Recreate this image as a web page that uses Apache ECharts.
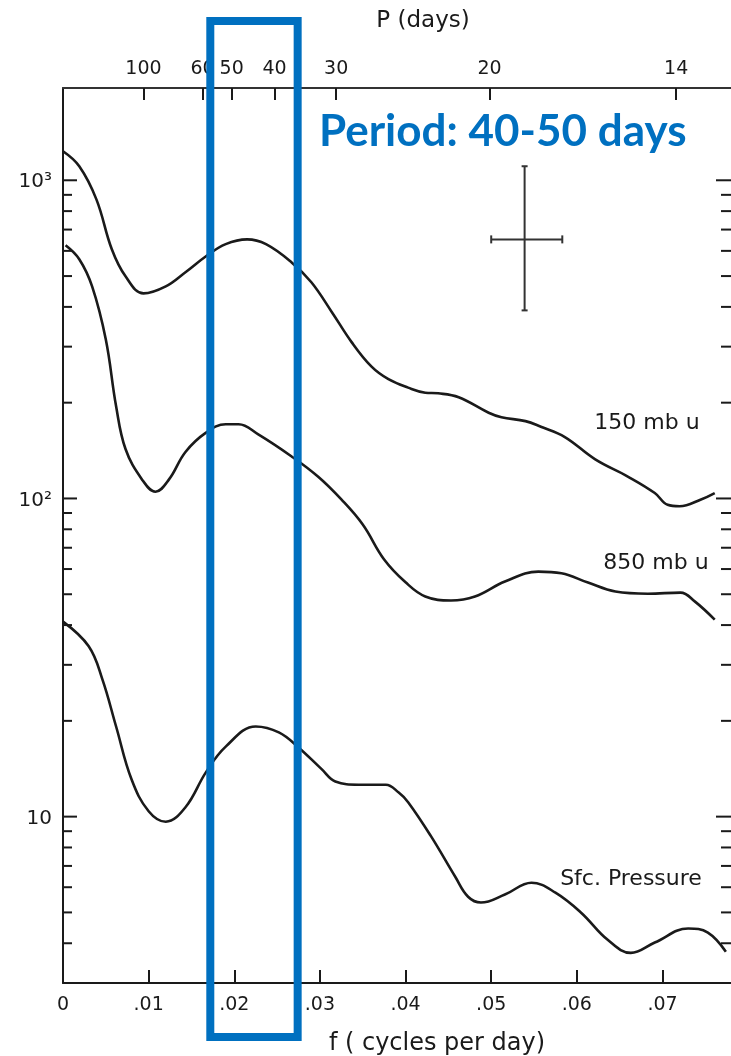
<!DOCTYPE html>
<html><head><meta charset="utf-8">
<script src="https://cdn.jsdelivr.net/npm/echarts@6/dist/echarts.min.js"></script>
<style>html,body{margin:0;padding:0;background:#fff}#c{width:731px;height:1056px}</style>
</head><body><div id="c"></div>
<script>
// ---- data ----
const f150 = [0, 0.0019, 0.0039, 0.0057, 0.0073, 0.0094, 0.0120, 0.0143, 0.0167, 0.0190, 0.0215, 0.0237, 0.0267, 0.0290, 0.0314, 0.0337, 0.0360, 0.0380, 0.0403, 0.0423, 0.0438, 0.0462, 0.0497, 0.0512, 0.0540, 0.0558, 0.0586, 0.0621, 0.0660, 0.0691, 0.0706, 0.0720, 0.0745, 0.0761];
const v150 = [1234, 1107, 871, 607, 499, 441, 464, 514, 577, 630, 652, 630, 552, 478, 385, 310, 260, 237, 223, 215, 214, 208, 186, 180, 175, 168, 156, 133, 117, 104, 95.5, 94.5, 99.3, 104];
const f850 = [0.0003, 0.0019, 0.0034, 0.0050, 0.0062, 0.0073, 0.0092, 0.0108, 0.0124, 0.0143, 0.0167, 0.0190, 0.0205, 0.0228, 0.0267, 0.0298, 0.0325, 0.0350, 0.0375, 0.0400, 0.0423, 0.0453, 0.0481, 0.0516, 0.0555, 0.0582, 0.0613, 0.0645, 0.0683, 0.0721, 0.0738, 0.0761];
const v850 = [625, 565, 464, 316, 195, 143, 115, 105, 115, 140, 161, 171, 171, 159, 135.5, 117, 99.3, 82.8, 64.3, 54.5, 49.2, 47.8, 49.2, 54.8, 58.9, 58.2, 54.4, 51.0, 50.2, 50.6, 47.4, 41.6];
const fSfc = [0, 0.0030, 0.0046, 0.0062, 0.0080, 0.0100, 0.0120, 0.0143, 0.0167, 0.0190, 0.0225, 0.0252, 0.0275, 0.0302, 0.0318, 0.0345, 0.0377, 0.0392, 0.0403, 0.0430, 0.0458, 0.0473, 0.0488, 0.0516, 0.0547, 0.0575, 0.0605, 0.0636, 0.0663, 0.0691, 0.0730, 0.0753, 0.0774];
const vSfc = [41, 34.3, 27, 19.2, 13.1, 10.4, 9.64, 10.7, 13.8, 16.6, 19.2, 18.4, 16.5, 14.1, 12.9, 12.6, 12.6, 11.9, 11.1, 8.65, 6.47, 5.6, 5.37, 5.69, 6.2, 5.77, 4.99, 4.1, 3.73, 4.02, 4.45, 4.32, 3.76];

const seriesNames = ['150 mb u', '850 mb u', 'Sfc. Pressure'];

const fTickValues = [0.01, 0.02, 0.03, 0.04, 0.05, 0.06, 0.07];
const fLabelValues = [0, 0.01, 0.02, 0.03, 0.04, 0.05, 0.06, 0.07];
const periodLabels = ['100', '60', '50', '40', '30', '20', '14'];
const periodTickF = [0.0094, 0.0163, 0.0197, 0.0247, 0.0319, 0.0498, 0.0716];

const yMajorTicks = [10, 100, 1000];
const yMajorLabels = ['10', '10\u00B2', '10\u00B3'];
const yMinorTicks = [4, 5, 6, 7, 8, 9, 20, 30, 40, 50, 60, 70, 80, 90, 200, 300, 400, 500, 600, 700, 800, 900];

// error cross: [f centre, value centre, f low, f high, value low, value high]
const errorCross = [0.0539, 652, 0.0500, 0.0583, 390, 1107];
// highlighted band (annotation box)
const boxF = [0.0172, 0.0274];
const boxTitle = 'Period: 40-50 days';

const X_MAX = 0.078, Y_MIN = 3, Y_MAX = 1950;
const INK = '#1a1a1a';
const FONT = 'DejaVu Sans';
const BLUE = '#0070C0';

const zip = (a, b) => a.map((x, i) => [x, b[i]]);

const chart = echarts.init(document.getElementById('c'));
const grid = { left: 63, top: 88, width: 669, height: 895 };

function tickSeries(values, len) {
  return {
    type: 'custom', clip: false, silent: true, z: 5,
    data: values.map(v => [0, v]),
    renderItem(params, api) {
      const v = api.value(1);
      const pl = api.coord([0, v]);
      const pr = api.coord([X_MAX, v]);
      const st = { stroke: INK, lineWidth: 2 };
      return { type: 'group', children: [
        { type: 'line', shape: { x1: pl[0], y1: pl[1], x2: pl[0] + len, y2: pl[1] }, style: st },
        { type: 'line', shape: { x1: pr[0], y1: pr[1], x2: pr[0] - len - 1, y2: pr[1] }, style: st }
      ]};
    }
  };
}

const lineStyle = { color: INK, width: 2.6 };
const option = {
  backgroundColor: '#fff',
  animation: false,
  grid: grid,
  xAxis: [
    {
      type: 'value', position: 'bottom', min: 0, max: X_MAX,
      axisLine: { show: true, lineStyle: { color: INK, width: 2 } },
      axisTick: { show: true, inside: true, length: 13, customValues: fTickValues, lineStyle: { color: INK, width: 2 } },
      axisLabel: { customValues: fLabelValues, margin: 13, color: INK, fontFamily: FONT, fontSize: 19,
        formatter: v => v === 0 ? '0' : '.' + String(Math.round(v * 100)).padStart(2, '0') },
      splitLine: { show: false }
    },
    {
      type: 'value', position: 'top', min: 0, max: X_MAX,
      axisLine: { show: true, lineStyle: { color: '#333', width: 2 } },
      axisTick: { show: true, inside: true, length: 12, customValues: periodTickF, lineStyle: { color: INK, width: 2 } },
      axisLabel: { customValues: periodTickF, margin: 9, color: INK, fontFamily: FONT, fontSize: 19,
        formatter: v => { let k = 0, d = 1; periodTickF.forEach((p, i) => { if (Math.abs(p - v) < d) { d = Math.abs(p - v); k = i; } }); return periodLabels[k]; } },
      splitLine: { show: false }
    }
  ],
  yAxis: {
    type: 'log', logBase: 10, min: Y_MIN, max: Y_MAX,
    axisLine: { show: true, lineStyle: { color: INK, width: 2 } },
    axisTick: { show: false }, axisLabel: { show: false }, splitLine: { show: false }
  },
  series: [
    { name: seriesNames[0], type: 'line', data: zip(f150, v150), smooth: 0.4, showSymbol: false, symbol: 'none', lineStyle, z: 4 },
    { name: seriesNames[1], type: 'line', data: zip(f850, v850), smooth: 0.4, showSymbol: false, symbol: 'none', lineStyle, z: 4 },
    { name: seriesNames[2], type: 'line', data: zip(fSfc, vSfc), smooth: 0.4, showSymbol: false, symbol: 'none', lineStyle, z: 4 },
    tickSeries(yMajorTicks, 14),
    tickSeries(yMinorTicks, 9),
    {
      type: 'custom', clip: false, silent: true, z: 5,
      data: yMajorTicks.map((v, i) => [0, v, i]),
      renderItem(params, api) {
        const p = api.coord([0, api.value(1)]);
        return { type: 'text', x: p[0] - 11, y: p[1] + 2,
          style: { text: yMajorLabels[api.value(2)], fill: INK, font: '20px "' + FONT + '"', align: 'right', verticalAlign: 'middle' } };
      }
    },
    {
      type: 'custom', clip: false, silent: true, z: 5,
      data: [errorCross],
      renderItem(params, api) {
        const c = api.coord([api.value(0), api.value(1)]);
        const l = api.coord([api.value(2), api.value(1)]);
        const r = api.coord([api.value(3), api.value(1)]);
        const b = api.coord([api.value(0), api.value(4)]);
        const t = api.coord([api.value(0), api.value(5)]);
        const st = { stroke: '#333', lineWidth: 2 };
        const L = (x1, y1, x2, y2) => ({ type: 'line', shape: { x1, y1, x2, y2 }, style: st });
        return { type: 'group', children: [
          L(l[0], c[1], r[0], c[1]), L(c[0], t[1], c[0], b[1]),
          L(l[0], c[1] - 4, l[0], c[1] + 4), L(r[0], c[1] - 4, r[0], c[1] + 4),
          L(c[0] - 3, t[1], c[0] + 3, t[1]), L(c[0] - 3, b[1], c[0] + 3, b[1])
        ]};
      }
    }
  ]
};
chart.setOption(option);

const bx0 = chart.convertToPixel({ xAxisIndex: 0 }, boxF[0]);
const bx1 = chart.convertToPixel({ xAxisIndex: 0 }, boxF[1]);
const txt = (text, x, y, size, extra) => Object.assign({ type: 'text', x, y, z: 20,
  style: Object.assign({ text, fill: INK, font: size + 'px "' + FONT + '"', align: 'center', verticalAlign: 'middle' }, extra || {}) });

chart.setOption({
  graphic: [
    { type: 'rect', z: 30, shape: { x: bx0, y: 21, width: bx1 - bx0, height: 1016 }, style: { fill: 'none', stroke: BLUE, lineWidth: 8 } },
    txt(boxTitle, 319, 132, 44, { fill: BLUE, font: 'bold 44px Lato', align: 'left' }),
    txt(seriesNames[0], 647, 423, 22),
    txt(seriesNames[1], 656, 563, 22),
    txt(seriesNames[2], 631, 879, 22),
    txt('P (days)', 423, 21, 23),
    txt('f ( cycles per day)', 437, 1044, 24)
  ]
});
</script>
</body></html>
